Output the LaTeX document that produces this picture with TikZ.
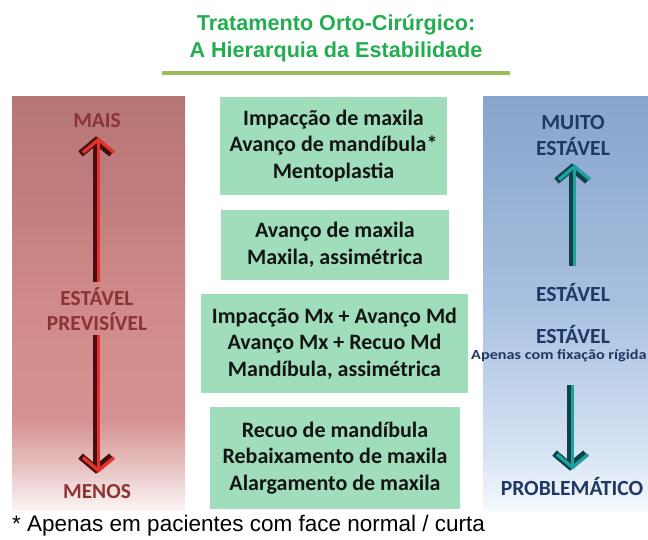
\documentclass[tikz,border=0pt]{standalone}
\usepackage{fontspec}
\setmainfont{Carlito}
\newfontfamily\arialf{Liberation Sans}
\usetikzlibrary{arrows.meta}
\definecolor{titlegreen}{RGB}{34,174,80}
\definecolor{ruleolive}{RGB}{155,187,89}
\definecolor{boxgreen}{RGB}{160,222,187}
\definecolor{boxtext}{RGB}{20,20,20}
\definecolor{lefttext}{RGB}{140,52,52}
\definecolor{righttext}{RGB}{32,56,100}
\definecolor{arrred}{RGB}{226,52,44}
\definecolor{arrdarkred}{RGB}{70,14,14}
\definecolor{arrteal}{RGB}{30,160,160}
\definecolor{arrdarkteal}{RGB}{14,66,70}
\definecolor{lbot}{RGB}{251,244,244}
\definecolor{lfade}{RGB}{232,196,196}
\definecolor{lmid}{RGB}{214,146,146}
\definecolor{lmid2}{RGB}{208,138,138}
\definecolor{lupper}{RGB}{194,126,126}
\definecolor{ltop}{RGB}{182,118,118}
\definecolor{rbot}{RGB}{246,249,253}
\definecolor{rfade}{RGB}{214,227,243}
\definecolor{rmid}{RGB}{168,192,224}
\definecolor{rtop}{RGB}{135,164,204}
\pgfdeclareverticalshading{leftshade}{100bp}{color(0bp)=(lbot); color(25bp)=(lbot); color(30bp)=(lfade); color(36bp)=(lmid); color(50bp)=(lmid2); color(62bp)=(lupper); color(75bp)=(ltop); color(100bp)=(ltop)}
\pgfdeclareverticalshading{rightshade}{100bp}{color(0bp)=(rbot); color(25bp)=(rbot); color(32bp)=(rfade); color(50bp)=(rmid); color(75bp)=(rtop); color(100bp)=(rtop)}
\begin{document}
\begin{tikzpicture}[x=1pt,y=-1pt,
  greenbox/.style={fill=boxgreen, text=boxtext, align=center, inner sep=0pt,
    font=\fontsize{22}{26.5}\selectfont\bfseries},
  leftlbl/.style={text=lefttext, align=center, inner sep=0pt,
    font=\fontsize{21.4}{25}\selectfont\bfseries},
  rightlbl/.style={text=righttext, align=center, inner sep=0pt,
    font=\fontsize{21.6}{26}\selectfont\bfseries},
  darkstroke/.style={line width=7pt, -{Straight Barb[length=13pt,width=31pt]}},
  lightstroke/.style={line width=3.4pt, -{Straight Barb[length=13pt,width=31pt]}},
]
\useasboundingbox (0,0) rectangle (648,539);
\fill[white] (0,0) rectangle (648,539);

% title
\node[text=titlegreen, align=center, inner sep=0pt,
  font=\arialf\fontsize{21.6}{27}\selectfont\bfseries] (title) at (336,38)
  {Tratamento Orto-Cirúrgico:\\A Hierarquia da Estabilidade};
\coordinate (ruleL) at (162,73);
\coordinate (ruleR) at (510,73);
\draw[ruleolive, line width=4pt] (ruleL) -- (ruleR);

% side panels
\shade[shading=leftshade] (12,96) rectangle (185,510);
\shade[shading=rightshade] (483,96) rectangle (660,510);

% central boxes
\node[greenbox, minimum width=227pt, minimum height=98pt] (b1) at (333.5,146)
  {Impacção de maxila\\Avanço de mandíbula*\\Mentoplastia};
\node[greenbox, minimum width=228pt, minimum height=70pt] (b2) at (335,245)
  {Avanço de maxila\\Maxila, assimétrica};
\node[greenbox, minimum width=267pt, minimum height=99pt] (b3) at (334.5,343.5)
  {Impacção Mx + Avanço Md\\Avanço Mx + Recuo Md\\Mandíbula, assimétrica};
\node[greenbox, minimum width=250pt, minimum height=102pt] (b4) at (335,458)
  {Recuo de mandíbula\\Rebaixamento de maxila\\Alargamento de maxila};

% left labels
\node[leftlbl] (maisL) at (97,121) {MAIS};
\node[leftlbl] (estL) at (97,309) {ESTÁVEL\\PREVISÍVEL};
\node[leftlbl] (menosL) at (97,492) {MENOS};

% left arrows
\draw[arrdarkred, darkstroke, shorten <=5pt, shorten >=8pt] ([xshift=-1pt]estL.north) -- ([xshift=-1pt]maisL.south);
\draw[arrred, lightstroke, shorten <=5pt, shorten >=9pt] ([xshift=1.5pt]estL.north) -- ([xshift=1.5pt]maisL.south);
\draw[arrdarkred, darkstroke, shorten <=4pt, shorten >=11pt] ([xshift=-1pt]estL.south) -- ([xshift=-1pt]menosL.north);
\draw[arrred, lightstroke, shorten <=4pt, shorten >=12pt] ([xshift=1.5pt]estL.south) -- ([xshift=1.5pt]menosL.north);

% right labels
\node[rightlbl] (muitoR) at (573,135) {MUITO\\ESTÁVEL};
\node[rightlbl] (est1R) at (573,292) {ESTÁVEL};
\node[rightlbl] (est2R) at (573,334) {ESTÁVEL};
\node[text=righttext, inner sep=0pt, anchor=west,
  font=\fontsize{14}{16}\selectfont\bfseries] (fixR) at (471,356) {\scalebox{1.16}[1]{Apenas com fixação rígida}};
\coordinate (fixC) at (570,364);

% right arrows
\draw[arrdarkteal, darkstroke, shorten <=17pt, shorten >=8pt] ([xshift=-1pt]est1R.north) -- ([xshift=-1pt]muitoR.south);
\draw[arrteal, lightstroke, shorten <=17pt, shorten >=9pt] ([xshift=1.5pt]est1R.north) -- ([xshift=1.5pt]muitoR.south);
\node[rightlbl] (probR) at (572,486) {PROBLEMÁTICO};
\draw[arrdarkteal, darkstroke, shorten <=21pt, shorten >=6pt] (fixC) -- ([xshift=-2pt]probR.north);
\draw[arrteal, lightstroke, shorten <=21pt, shorten >=7pt] ([xshift=2.5pt]fixC) -- ([xshift=0.5pt]probR.north);

% footnote
\node[anchor=west, inner sep=0pt, text=black,
  font=\arialf\fontsize{22.5}{24}\selectfont] (foot) at (12,526)
  {* Apenas em pacientes com face normal / curta};
\end{tikzpicture}
\end{document}
